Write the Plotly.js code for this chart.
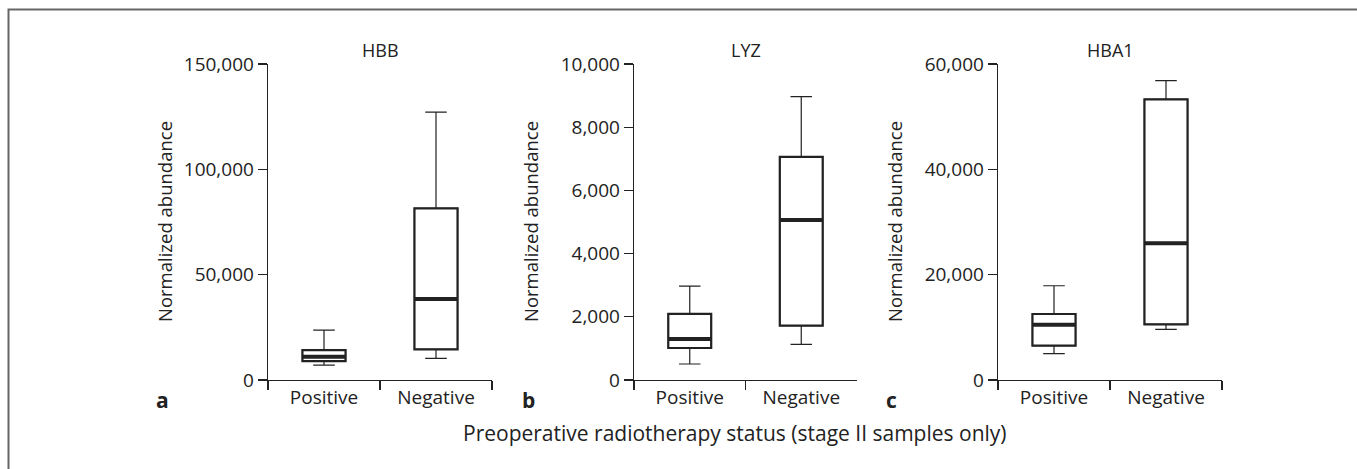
<!DOCTYPE html>
<html>
<head>
<meta charset="utf-8">
<script src="https://cdn.plot.ly/plotly-3.0.1.min.js"></script>
<style>html,body{margin:0;padding:0;background:#fff;}#chart{width:1357px;height:469px;}</style>
</head>
<body>
<div id="chart"></div>
<script>
// ---- data ----
const categories = ["Positive", "Negative"];
const genes = ["HBB", "LYZ", "HBA1"];
const panelLetters = ["a", "b", "c"];
// per gene: [Positive, Negative]
const hbbLower  = [7100, 10300];
const hbbQ1     = [9000, 14500];
const hbbMedian = [11000, 38400];
const hbbQ3     = [14200, 81500];
const hbbUpper  = [23700, 127200];

const lyzLower  = [506, 1130];
const lyzQ1     = [1012, 1719];
const lyzMedian = [1296, 5064];
const lyzQ3     = [2095, 7058];
const lyzUpper  = [2970, 8967];

const hba1Lower  = [5000, 9620];
const hba1Q1     = [6510, 10570];
const hba1Median = [10500, 25960];
const hba1Q3     = [12530, 53300];
const hba1Upper  = [17900, 56840];

const yMax = [150000, 10000, 60000];
const yStep = [50000, 2000, 20000];
const xAxisTitle = "Preoperative radiotherapy status (stage II samples only)";
const yAxisTitle = "Normalized abundance";

// ---- build ----
const W = 1357, H = 469;
const px = x => x / W;
const py = y => 1 - y / H;
const ink = "#222";
const font = "Open Sans, Noto Sans, sans-serif";

const stats = [
  [hbbLower, hbbQ1, hbbMedian, hbbQ3, hbbUpper],
  [lyzLower, lyzQ1, lyzMedian, lyzQ3, lyzUpper],
  [hba1Lower, hba1Q1, hba1Median, hba1Q3, hba1Upper]
];
const panelX = [[268, 492], [634, 857], [998, 1222]];
const plotTop = 64, plotBottom = 380;

const traces = [];
const layout = {
  width: W, height: H,
  margin: {l: 0, r: 0, t: 0, b: 0},
  paper_bgcolor: "#fff", plot_bgcolor: "#fff",
  showlegend: false,
  boxgap: 0.45,
  boxmode: "overlay",
  font: {family: font, color: ink, size: 19},
  annotations: [],
  shapes: [{
    type: "rect", xref: "paper", yref: "paper",
    x0: px(8.5), x1: 1.2, y0: -0.2, y1: py(9.5),
    line: {color: "#666", width: 2}, fillcolor: "rgba(0,0,0,0)"
  }]
};

stats.forEach((s, i) => {
  const [lo, q1, med, q3, up] = s;
  const xa = "x" + (i === 0 ? "" : i + 1);
  const ya = "y" + (i === 0 ? "" : i + 1);
  const common = {type: "box", orientation: "v", x: categories, xaxis: xa, yaxis: ya,
                  boxpoints: false, hoverinfo: "skip", whiskerwidth: 0.5};
  // whiskers (thin)
  traces.push(Object.assign({}, common, {
    q1: q1, median: med, q3: q3, lowerfence: lo, upperfence: up,
    line: {color: ink, width: 1.2}, fillcolor: "#fff"
  }));
  // box outline (thicker)
  traces.push(Object.assign({}, common, {
    q1: q1, median: med, q3: q3, lowerfence: q1, upperfence: q3,
    line: {color: ink, width: 2.2}, fillcolor: "rgba(0,0,0,0)"
  }));
  // median (thick)
  traces.push(Object.assign({}, common, {
    q1: med, median: med, q3: med, lowerfence: med, upperfence: med,
    line: {color: ink, width: 4}, fillcolor: "rgba(0,0,0,0)"
  }));

  const xk = "xaxis" + (i === 0 ? "" : i + 1);
  const yk = "yaxis" + (i === 0 ? "" : i + 1);
  layout[xk] = {
    domain: [px(panelX[i][0]), px(panelX[i][1])],
    anchor: ya, type: "category", range: [-0.5, 1.5],
    categoryorder: "array", categoryarray: categories,
    tickson: "boundaries", ticks: "outside", ticklen: 9, tickwidth: 1.2, tickcolor: ink,
    showline: true, linecolor: ink, linewidth: 1.3, showgrid: false, zeroline: false,
    tickfont: {family: font, size: 19, color: ink}, fixedrange: true
  };
  layout[yk] = {
    domain: [py(plotBottom), py(plotTop)],
    anchor: xa, range: [0, yMax[i]], dtick: yStep[i], tick0: 0,
    tickformat: ",", ticks: "outside", ticklen: 9, tickwidth: 1.2, tickcolor: ink,
    showline: true, linecolor: ink, linewidth: 1.3, showgrid: false, zeroline: false,
    tickfont: {family: font, size: 19, color: ink}, fixedrange: true
  };
  const cx = (panelX[i][0] + panelX[i][1]) / 2;
  layout.annotations.push({
    text: genes[i], xref: "paper", yref: "paper", x: px(cx), y: py(50),
    xanchor: "center", yanchor: "middle", showarrow: false,
    font: {family: font, size: 18, color: ink}
  });
  layout.annotations.push({
    text: yAxisTitle, xref: "paper", yref: "paper", x: px(panelX[i][0] - 103), y: py(222),
    xanchor: "center", yanchor: "middle", textangle: -90, showarrow: false,
    font: {family: font, size: 18.5, color: ink}
  });
  layout.annotations.push({
    text: "<b>" + panelLetters[i] + "</b>", xref: "paper", yref: "paper",
    x: px(panelX[i][0] - 106), y: py(400),
    xanchor: "center", yanchor: "middle", showarrow: false,
    font: {family: font, size: 21, color: ink}
  });
});

layout.annotations.push({
  text: xAxisTitle, xref: "paper", yref: "paper", x: px(735), y: py(433),
  xanchor: "center", yanchor: "middle", showarrow: false,
  font: {family: font, size: 21, color: ink}
});

Plotly.newPlot("chart", traces, layout, {displayModeBar: false, staticPlot: true});
</script>
</body>
</html>
